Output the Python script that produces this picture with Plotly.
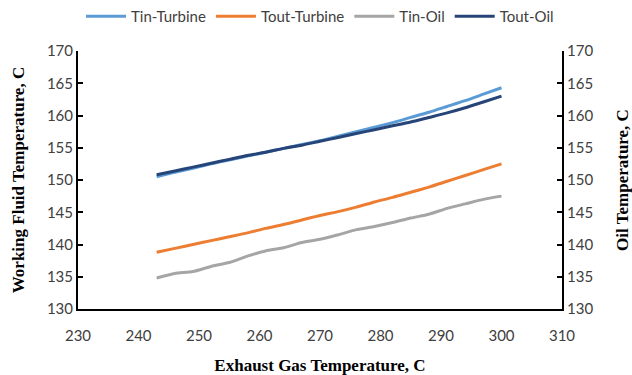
import plotly.graph_objects as go

# Exhaust gas temperature, C
exhaust_temp = [243, 246, 249, 252, 255, 258, 261, 264, 267, 270,
                273, 276, 279, 282, 285, 288, 291, 294, 297, 300]

# Working fluid temperatures, C
tin_turbine = [150.5, 151.2, 151.8, 152.5, 153.1, 153.7, 154.3, 154.9, 155.5, 156.1,
               156.8, 157.5, 158.2, 158.9, 159.7, 160.5, 161.4, 162.3, 163.3, 164.3]
tout_turbine = [138.8, 139.4, 140.0, 140.6, 141.2, 141.8, 142.5, 143.1, 143.8, 144.5,
                145.1, 145.8, 146.6, 147.3, 148.1, 148.9, 149.8, 150.7, 151.6, 152.5]

# Oil temperatures, C
tin_oil = [134.8, 135.5, 135.8, 136.6, 137.2, 138.2, 139.0, 139.5, 140.3, 140.8,
           141.5, 142.3, 142.8, 143.4, 144.1, 144.7, 145.6, 146.3, 147.0, 147.5]
tout_oil = [150.8, 151.4, 152.0, 152.6, 153.2, 153.8, 154.3, 154.9, 155.4, 156.0,
            156.6, 157.2, 157.8, 158.4, 159.0, 159.7, 160.4, 161.2, 162.1, 163.0]

x_ticks = [230, 240, 250, 260, 270, 280, 290, 300, 310]
y_ticks = [130, 135, 140, 145, 150, 155, 160, 165, 170]

series = [
    ("Tin-Turbine", tin_turbine, "#5B9BD5", "y"),
    ("Tout-Turbine", tout_turbine, "#ED7D31", "y"),
    ("Tin-Oil", tin_oil, "#A5A5A5", "y2"),
    ("Tout-Oil", tout_oil, "#264478", "y2"),
]

fig = go.Figure()
for name, vals, color, axis in series:
    fig.add_trace(go.Scatter(
        x=exhaust_temp, y=vals, name=name, mode="lines", yaxis=axis,
        line=dict(color=color, width=3, shape="spline", smoothing=0.6),
    ))

tick_font = dict(family="Lato, Open Sans, sans-serif", size=15, color="#404040")
title_font = dict(family="Liberation Serif", size=17, color="#000000")

axis_common = dict(
    range=[130, 170], tickvals=y_ticks, showgrid=False, zeroline=False,
    showline=True, linecolor="#000000", linewidth=2,
    ticks="inside", ticklen=5, tickwidth=2, tickcolor="#000000",
    tickfont=tick_font, automargin=False,
)

fig.update_layout(
    width=632, height=375,
    margin=dict(l=78, r=70, t=51, b=66),
    paper_bgcolor="white", plot_bgcolor="white",
    showlegend=True,
    legend=dict(
        orientation="h", x=0.5, xanchor="center", y=1.0, yanchor="top",
        font=dict(family="Lato, Open Sans, sans-serif", size=15, color="#404040"),
        yref="container", itemwidth=40,
    ),
    xaxis=dict(
        range=[230, 310], tickvals=x_ticks, showgrid=False, zeroline=False,
        showline=True, linecolor="#000000", linewidth=2, ticks="",
        tickfont=tick_font, ticklabelstandoff=12, automargin=False,
        title=dict(text="<b>Exhaust Gas Temperature, C</b>", font=title_font, standoff=20),
    ),
    yaxis=dict(
        **axis_common,
        title=dict(text="<b>Working Fluid Temperature, C</b>", font=title_font, standoff=18),
    ),
    yaxis2=dict(
        **axis_common, overlaying="y", side="right",
        title=dict(text="<b>Oil Temperature, C</b>", font=title_font, standoff=24),
    ),
)

fig.write_html("out.html")
